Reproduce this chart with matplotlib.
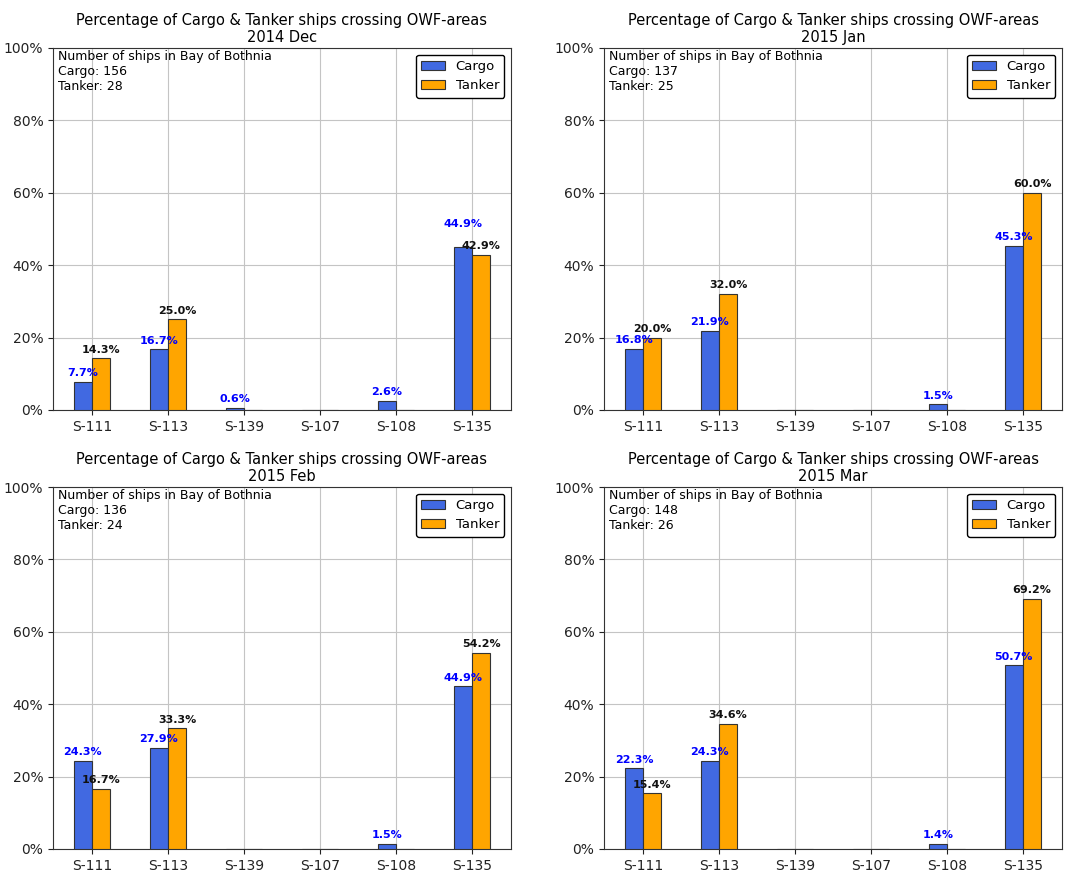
import numpy as np
import matplotlib.pyplot as plt
from matplotlib.ticker import FuncFormatter

areas = ["S-111", "S-113", "S-139", "S-107", "S-108", "S-135"]
months = ["2014 Dec", "2015 Jan", "2015 Feb", "2015 Mar"]

cargo_dec = [7.7, 16.7, 0.6, 0.0, 2.6, 44.9]
tanker_dec = [14.3, 25.0, 0.0, 0.0, 0.0, 42.9]
cargo_jan = [16.8, 21.9, 0.0, 0.0, 1.5, 45.3]
tanker_jan = [20.0, 32.0, 0.0, 0.0, 0.0, 60.0]
cargo_feb = [24.3, 27.9, 0.0, 0.0, 1.5, 44.9]
tanker_feb = [16.7, 33.3, 0.0, 0.0, 0.0, 54.2]
cargo_mar = [22.3, 24.3, 0.0, 0.0, 1.4, 50.7]
tanker_mar = [15.4, 34.6, 0.0, 0.0, 0.0, 69.2]

n_cargo = [156, 137, 136, 148]
n_tanker = [28, 25, 24, 26]

cargo_all = [cargo_dec, cargo_jan, cargo_feb, cargo_mar]
tanker_all = [tanker_dec, tanker_jan, tanker_feb, tanker_mar]

W = 0.24
x = np.arange(len(areas))

fig, axes = plt.subplots(2, 2, figsize=(10.68, 8.72), dpi=100)
fig.subplots_adjust(left=0.0496, right=0.9944, top=0.945, bottom=0.0264,
                    wspace=0.203, hspace=0.213)

for ax, month, cargo, tanker, nc, nt in zip(axes.flat, months, cargo_all, tanker_all,
                                             n_cargo, n_tanker):
    ax.bar(x - W/2, cargo, W, color="royalblue", edgecolor="#333333", lw=0.8,
           label="Cargo", zorder=3)
    ax.bar(x + W/2, tanker, W, color="orange", edgecolor="#333333", lw=0.8,
           label="Tanker", zorder=3)
    for xi, c, t in zip(x, cargo, tanker):
        # lift the cargo label when both bars are nearly the same height
        lift = 5.0 if (c > 0 and t > 0 and c >= t and c - t < 4) else 1.0
        if c > 0:
            ax.text(xi - W/2, c + lift, f"{c:.1f}%", ha="center", va="bottom",
                    color="blue", fontsize=8, fontweight="bold", zorder=4)
        if t > 0:
            ax.text(xi + W/2, t + 1.0, f"{t:.1f}%", ha="center", va="bottom",
                    color="#111111", fontsize=8, fontweight="bold", zorder=4)

    ax.set_ylim(0, 100)
    ax.set_yticks(np.arange(0, 101, 20))
    ax.yaxis.set_major_formatter(FuncFormatter(lambda v, p: f"{v:.0f}%"))
    ax.set_xticks(x)
    ax.set_xticklabels(areas)
    ax.tick_params(labelsize=10, colors="#222222")
    ax.grid(True, color="#c4c4c4", lw=0.8, zorder=0)
    for s in ax.spines.values():
        s.set_color("#333333")
    ax.set_title(f"Percentage of Cargo & Tanker ships crossing OWF-areas\n{month}",
                 fontsize=10.5, pad=4, linespacing=1.2)
    ax.text(0.01, 0.995, f"Number of ships in Bay of Bothnia\nCargo: {nc}\nTanker: {nt}",
            transform=ax.transAxes, ha="left", va="top", fontsize=9, linespacing=1.2)
    leg = ax.legend(loc="upper right", fontsize=9.5, framealpha=1, handlelength=1.8)
    leg.get_frame().set_edgecolor("black")
    leg.get_frame().set_linewidth(1.0)

plt.savefig("out.png", dpi=100)
